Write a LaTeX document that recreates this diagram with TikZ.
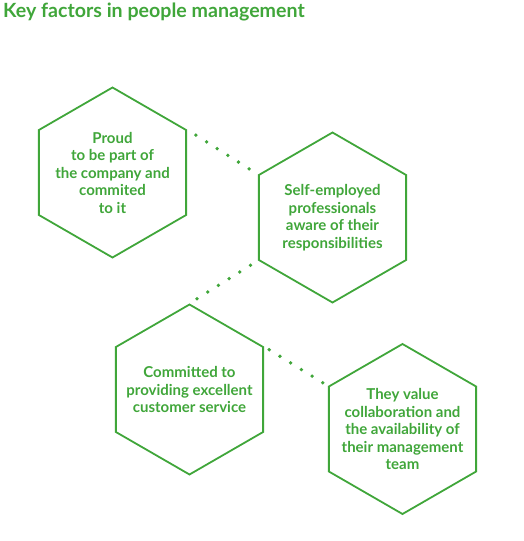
\documentclass[tikz,border=0pt]{standalone}
\usepackage{fontspec}
\setmainfont{Lato}
\usepackage{tikz}
\usetikzlibrary{shapes.geometric}
\usetikzlibrary{calc}
\definecolor{leafgreen}{RGB}{64,166,58}

\begin{document}
\begin{tikzpicture}[
  x=1pt, y=-1pt,
  hexa/.style={regular polygon, regular polygon sides=6, shape border rotate=30,
    minimum size=170pt, inner sep=0pt, draw=leafgreen, line width=1.8pt},
  hexlabel/.style={align=center, text=leafgreen,
    font=\bfseries\fontsize{15}{17.5}\selectfont},
  heading/.style={anchor=base west, text=leafgreen, inner sep=0pt,
    font=\bfseries\fontsize{19.6}{22}\selectfont},
]
\useasboundingbox (0,0) rectangle (523,541);

\node[heading] (head) at (3,17) {Key factors in people management};

\node[hexa] (h1) at (112.5,172.5) {};
\node[hexa] (h2) at (332.5,217.5) {};
\node[hexa] (h3) at (189.5,389.5) {};
\node[hexa] (h4) at (402.5,429)   {};

\node[hexlabel] (t1) at (h1) {Proud\\to be part of\\the company and\\commited\\to it};
\node[hexlabel] (t2) at (h2) {Self-employed\\professionals\\aware of their\\responsibilities};
\node[hexlabel] (t3) at (h3) {Committed to\\providing excellent\\customer service};
\node[hexlabel] (t4) at (h4) {They value\\collaboration and\\the availability of\\their management\\team};

% dotted links, six dots centred between the corners
\foreach \s/\e in {h1.30/h2.150, h2.210/h3.90, h3.30/h4.150}{
  \coordinate (m) at ($(\s)!0.5!(\e)$);
  \foreach \k in {-2.5,-1.5,...,2.5}
    \fill[leafgreen] ($(m)!{\k*12.6pt}!(\e)$) circle (1.9pt);
}
\end{tikzpicture}
\end{document}
